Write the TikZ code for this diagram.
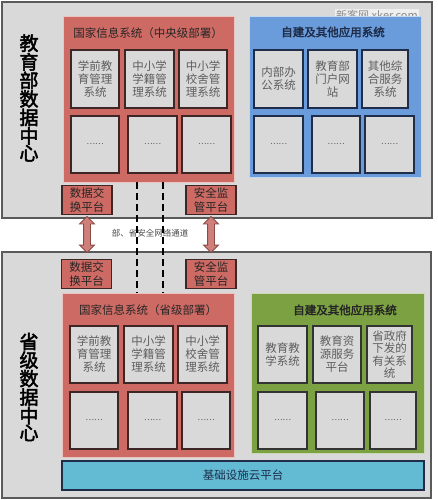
\documentclass[tikz,border=0pt]{standalone}
\usepackage{fontspec}
\setmainfont{Noto Sans CJK SC}[AutoFakeBold=2.5]
\usetikzlibrary{shapes.arrows}
\definecolor{bggray}{HTML}{D9D9D9}
\definecolor{outerline}{HTML}{5A5A5A}
\definecolor{redc}{HTML}{CE6A64}
\definecolor{bluec}{HTML}{6A9BDA}
\definecolor{greenc}{HTML}{7BA142}
\definecolor{cloudc}{HTML}{62BBD3}
\definecolor{navy}{HTML}{1F2D4A}
\definecolor{darkred}{HTML}{3E2626}
\definecolor{itemtext}{HTML}{5E5E5E}
\definecolor{arrowc}{HTML}{D0807A}
\definecolor{arrowline}{HTML}{8A4A45}
\tikzset{
  outerbox/.style={draw=outerline, fill=bggray, line width=1.2pt, inner sep=0},
  groupbox/.style={draw=white!60!#1, fill=#1, line width=1pt, inner sep=0},
  itembox/.style={draw=#1, fill=bggray, line width=1.2pt, inner sep=0, align=center,
    text=itemtext, font=\fontsize{11.5}{13}\selectfont},
  platbox/.style={draw=darkred, fill=redc, line width=1.2pt, inner sep=0, align=center,
    text=black!85, font=\fontsize{11.5}{13.5}\selectfont, minimum width=50, minimum height=29},
  titletext/.style={font=\fontsize{11.5}{13}\selectfont, text=black!85},
  bigtext/.style={font=\fontsize{19}{17.2}\selectfont\bfseries, align=center, text=black},
  dotstext/.style={font=\fontsize{8}{10}\selectfont, text=black!70},
  linkarrow/.style={double arrow, draw=arrowline, fill=arrowc, rotate=90, minimum height=36,
    double arrow head extend=4pt, inner sep=3pt, line width=0.8pt},
  tunnel/.style={line width=2pt, dash pattern=on 7pt off 4pt, black}
}
\begin{document}
\begin{tikzpicture}[x=1pt,y=-1pt]
\useasboundingbox (0,0) rectangle (437,500);
\fill[white] (0,0) rectangle (437,500);

% outer data centres
\node[outerbox, minimum width=430, minimum height=216] (top) at (217,110) {};
\node[outerbox, minimum width=429, minimum height=246] (bot) at (216.5,375) {};

% watermark
\node[font=\fontsize{11}{13}\selectfont, text=black!45, fill=white, fill opacity=0.6, text opacity=1, inner sep=1pt] (wm) at (377,15) {新客网 xker.com};

% left labels
\node[bigtext] (toplabel) at (29,98) {教\\育\\部\\数\\据\\中\\心};
\node[bigtext] (botlabel) at (29,387) {省\\级\\数\\据\\中\\心};

% ===== top: national info system (central) =====
\node[groupbox=redc, minimum width=171, minimum height=165] (tred) at (148.5,99.5) {};
\node[titletext] (tredtitle) at (148,33) {国家信息系统（中央级部署）};
\node[itembox=darkred, minimum width=48, minimum height=58] (ta1) at (95,79) {学前教\\育管理\\系统};
\node[itembox=darkred, minimum width=49, minimum height=58] (ta2) at (149.5,79) {中小学\\学籍管\\理系统};
\node[itembox=darkred, minimum width=48, minimum height=58] (ta3) at (203,79) {中小学\\校舍管\\理系统};
\node[itembox=darkred, minimum width=48, minimum height=57] (tb1) at (95,144.5) {\tikz[baseline]\node[dotstext,inner sep=0]{……};};
\node[itembox=darkred, minimum width=49, minimum height=57] (tb2) at (152.5,144.5) {\tikz[baseline]\node[dotstext,inner sep=0]{……};};
\node[itembox=darkred, minimum width=49, minimum height=57] (tb3) at (206.5,144.5) {\tikz[baseline]\node[dotstext,inner sep=0]{……};};

% top: self-built systems (blue)
\node[groupbox=bluec, minimum width=172, minimum height=160] (tblue) at (335,97) {};
\node[titletext, font=\fontsize{11.5}{13}\selectfont\bfseries, text=navy] (tbluetitle) at (333,32) {自建及其他应用系统};
\node[itembox=navy, minimum width=49, minimum height=58] (tc1) at (278.5,79) {内部办\\公系统};
\node[itembox=navy, minimum width=49, minimum height=58] (tc2) at (332.5,79) {教育部\\门户网\\站};
\node[itembox=navy, minimum width=46, minimum height=58] (tc3) at (385,79) {其他综\\合服务\\系统};
\node[itembox=navy, minimum width=49, minimum height=57] (td1) at (278.5,144.5) {\tikz[baseline]\node[dotstext,inner sep=0]{……};};
\node[itembox=navy, minimum width=48, minimum height=57] (td2) at (336,144.5) {\tikz[baseline]\node[dotstext,inner sep=0]{……};};
\node[itembox=navy, minimum width=49, minimum height=57] (td3) at (389.5,144.5) {\tikz[baseline]\node[dotstext,inner sep=0]{……};};

% top platforms
\node[platbox] (tdata) at (87,200) {数据交\\换平台};
\node[platbox] (tsec) at (211,200) {安全监\\管平台};

% ===== bottom platforms =====
\node[platbox] (bdata) at (86.5,274) {数据交\\换平台};
\node[platbox] (bsec) at (211,274) {安全监\\管平台};

% bottom: national info system (provincial)
\node[groupbox=redc, minimum width=172, minimum height=164] (bred) at (148,375) {};
\node[titletext] (bredtitle) at (148,310) {国家信息系统（省级部署）};
\node[itembox=darkred, minimum width=48, minimum height=57] (ba1) at (94,354.5) {学前教\\育管理\\系统};
\node[itembox=darkred, minimum width=49, minimum height=57] (ba2) at (148.5,354.5) {中小学\\学籍管\\理系统};
\node[itembox=darkred, minimum width=49, minimum height=57] (ba3) at (202.5,354.5) {中小学\\校舍管\\理系统};
\node[itembox=darkred, minimum width=48, minimum height=57] (bb1) at (94,420.5) {\tikz[baseline]\node[dotstext,inner sep=0]{……};};
\node[itembox=darkred, minimum width=49, minimum height=57] (bb2) at (152.5,420.5) {\tikz[baseline]\node[dotstext,inner sep=0]{……};};
\node[itembox=darkred, minimum width=48, minimum height=57] (bb3) at (206,420.5) {\tikz[baseline]\node[dotstext,inner sep=0]{……};};

% bottom: self-built systems (green)
\node[groupbox=greenc, minimum width=173, minimum height=160] (bgreen) at (337.5,373) {};
\node[titletext, font=\fontsize{11.5}{13}\selectfont\bfseries] (bgreentitle) at (345,310) {自建及其他应用系统};
\node[itembox=black!80, minimum width=49, minimum height=57] (bc1) at (282.5,354.5) {教育教\\学系统};
\node[itembox=black!80, minimum width=48, minimum height=57] (bc2) at (337,354.5) {教育资\\源服务\\平台};
\node[itembox=black!80, minimum width=45, minimum height=57, font=\fontsize{11.5}{12.5}\selectfont] (bc3) at (389.5,354.5) {省政府\\下发的\\有关系\\统};
\node[itembox=black!80, minimum width=49, minimum height=57] (bd1) at (282.5,420.5) {\tikz[baseline]\node[dotstext,inner sep=0]{……};};
\node[itembox=black!80, minimum width=48, minimum height=57] (bd2) at (340,420.5) {\tikz[baseline]\node[dotstext,inner sep=0]{……};};
\node[itembox=black!80, minimum width=46, minimum height=57] (bd3) at (393,420.5) {\tikz[baseline]\node[dotstext,inner sep=0]{……};};

% cloud platform
\node[draw=navy, fill=cloudc, line width=1.2pt, minimum width=362, minimum height=29, inner sep=0,
  font=\fontsize{11.5}{13}\selectfont, text=navy] (cloud) at (243,475.5) {基础设施云平台};

% secure channel label
\node[font=\fontsize{8.5}{10}\selectfont, text=black!70] (chan) at (150,233) {部、省安全网络通道};

% dashed secure channels
\coordinate (d1a) at (137,182);
\coordinate (d1b) at (137,293);
\coordinate (d2a) at (163,182);
\coordinate (d2b) at (163,293);
\draw[tunnel] (d1a) -- (d1b);
\draw[tunnel] (d2a) -- (d2b);

% double arrows between centres
\node[linkarrow] (arrL) at (87,234.5) {};
\node[linkarrow] (arrR) at (211,234.5) {};
\end{tikzpicture}
\end{document}
